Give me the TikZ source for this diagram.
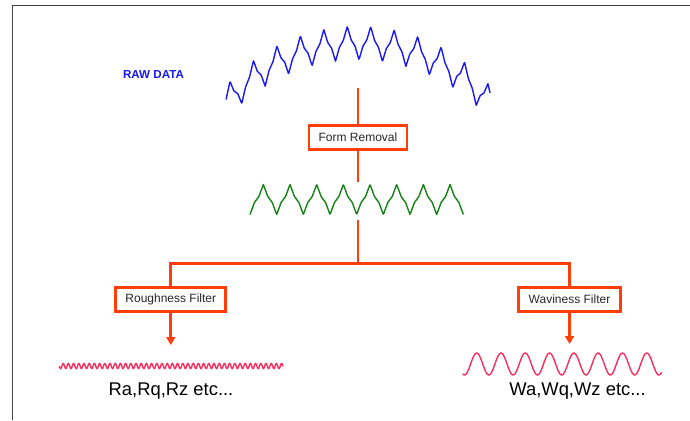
\documentclass[tikz,border=0pt]{standalone}
\usepackage{fontspec}
\setmainfont{Liberation Sans}
\usepackage{xcolor}
\usepackage{tikz}
\usetikzlibrary{positioning, arrows.meta}

\definecolor{framegray}{RGB}{64,64,64}
\definecolor{boxred}{RGB}{255,62,10}
\definecolor{rawblue}{RGB}{25,25,240}
\definecolor{formgreen}{RGB}{20,130,20}
\definecolor{filtpink}{RGB}{250,45,95}
\definecolor{textgray}{RGB}{40,40,40}

\tikzset{
  redline/.style={boxred, line width=2.8pt, line join=miter},
  redarrow/.style={boxred, line width=2.8pt, -{Triangle[length=8pt, width=9pt]}},
  filterbox/.style={draw=boxred, line width=2.8pt, fill=white, inner sep=0pt,
    minimum height=24pt, text=textgray, font=\fontsize{12}{14}\selectfont},
  result/.style={anchor=base, text=black, font=\fontsize{18.4}{22}\selectfont},
  declare function={tri(\q)=1-abs(2*frac(\q)-1);},
}

\begin{document}
\begin{tikzpicture}[x=1pt, y=-1pt]
\useasboundingbox (0,0) rectangle (690,420);
% frame
\draw[framegray, line width=1pt] (12.7,420) -- (12.7,6) -- (689.5,6);

% raw data
\node[rawblue, anchor=base, font=\bfseries\fontsize{11.6}{14}\selectfont] (rawlbl) at (153.5,78) {RAW DATA};
\draw[rawblue, line width=1.4pt, line join=round, domain=226:490, samples=500] plot (\x,
  {234 - 176*sqrt(1-((\x-358)/176)^2)
   - 30*tri((\x-230)/23.45+0.5)
   - 3.5*(tri(3*((\x-230)/23.45+0.5))-0.5)});

% form removal
\coordinate (rawend) at (358,88);
\node[filterbox, minimum width=98pt] (form) at (358,137.5) {Form Removal};
\coordinate (greentop) at (358,182);
\coordinate (greenbot) at (358,220);
\draw[redline] (rawend) -- (form.north);
\draw[redline] (form.south) -- (greentop);
\draw[formgreen, line width=1.4pt, line join=round, domain=250:463.4, samples=480] plot (\x,
  {213 - 27*tri((\x-250)/26.67)
   - 3*(tri(3*(\x-250)/26.67)-0.5)});

% filters
\coordinate (split) at (358,263.3);
\node[filterbox, minimum width=110pt] (rough) at (170.8,299.3) {Roughness Filter};
\node[filterbox, minimum width=101.5pt] (wavy) at (569.5,299.3) {Waviness Filter};
\draw[redline] (greenbot) -- (split);
\draw[redline] (rough.north) |- (split) -| (wavy.north);
\coordinate (roughtip) at (170.8,345);
\coordinate (wavytip) at (569.5,344);
\draw[redarrow] (rough.south) -- (roughtip);
\draw[redarrow] (wavy.south) -- (wavytip);

% filtered profiles
\draw[filtpink, line width=1.4pt, domain=59.3:283, samples=500] plot (\x, {366 + 2.6*sin((\x-59.3)/5.2*360)});
\draw[filtpink, line width=1.4pt, domain=462.7:661.7, samples=200, smooth] plot (\x, {364 - 11*sin((\x-470.6)/24.3*360)});
\node[result] (roughlbl) at (171,395) {Ra,Rq,Rz etc...};
\node[result] (wavylbl) at (577.5,395) {Wa,Wq,Wz etc...};
\end{tikzpicture}
\end{document}
